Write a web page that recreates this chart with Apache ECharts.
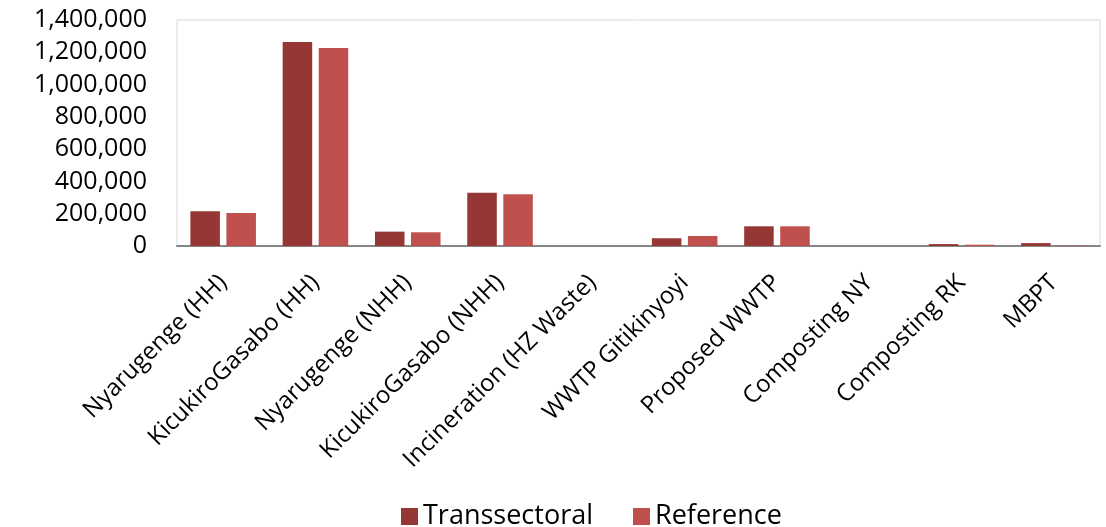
<!DOCTYPE html>
<html>
<head>
<meta charset="utf-8">
<script src="https://cdn.jsdelivr.net/npm/echarts@6/dist/echarts.min.js"></script>
<style>
  html, body { margin: 0; padding: 0; background: #fff; }
  #chart { width: 1106px; height: 527px; }
</style>
</head>
<body>
<div id="chart"></div>
<script>
// Categories of waste streams / facilities
const categories = [
  'Nyarugenge (HH)', 'KicukiroGasabo (HH)', 'Nyarugenge (NHH)', 'KicukiroGasabo (NHH)',
  'Incineration (HZ Waste)', 'WWTP Gitikinyoyi', 'Proposed WWTP', 'Composting NY',
  'Composting RK', 'MBPT'
];
const transsectoral = [215000, 1264000, 89000, 330000, 0, 48000, 122000, 0, 12000, 18000];
const reference = [204000, 1227000, 85000, 320000, 0, 62000, 122000, 0, 8000, 2000];
const yTicks = { min: 0, max: 1400000, interval: 200000 };

const font = '"Open Sans", "Noto Sans", sans-serif';
const chart = echarts.init(document.getElementById('chart'));
chart.setOption({
  animation: false,
  grid: {
    left: 177, right: 6, top: 20, bottom: 281,
    show: true, borderColor: '#d9d9d9', borderWidth: 1
  },
  legend: {
    top: 498, left: 396, itemWidth: 17, itemHeight: 17, itemGap: 40,
    icon: 'rect',
    textStyle: { fontFamily: font, fontSize: 27, color: '#000' },
    data: ['Transsectoral', 'Reference']
  },
  xAxis: {
    type: 'category', data: categories,
    axisLine: { lineStyle: { color: '#868686', width: 2 } },
    axisTick: { show: false },
    axisLabel: {
      rotate: 45, interval: 0, margin: 33,
      fontFamily: font, fontSize: 24, color: '#000'
    }
  },
  yAxis: {
    type: 'value', min: yTicks.min, max: yTicks.max, interval: yTicks.interval,
    axisLine: { show: false }, axisTick: { show: false }, splitLine: { show: false },
    axisLabel: {
      margin: 30, fontFamily: font, fontSize: 25, color: '#000',
      formatter: v => v.toLocaleString('en-US')
    }
  },
  series: [
    {
      name: 'Transsectoral', type: 'bar', data: transsectoral,
      barWidth: '32%', barGap: '22%',
      itemStyle: { color: '#953735' }
    },
    {
      name: 'Reference', type: 'bar', data: reference,
      barWidth: '32%',
      itemStyle: { color: '#c0504d' }
    }
  ]
});
</script>
</body>
</html>
